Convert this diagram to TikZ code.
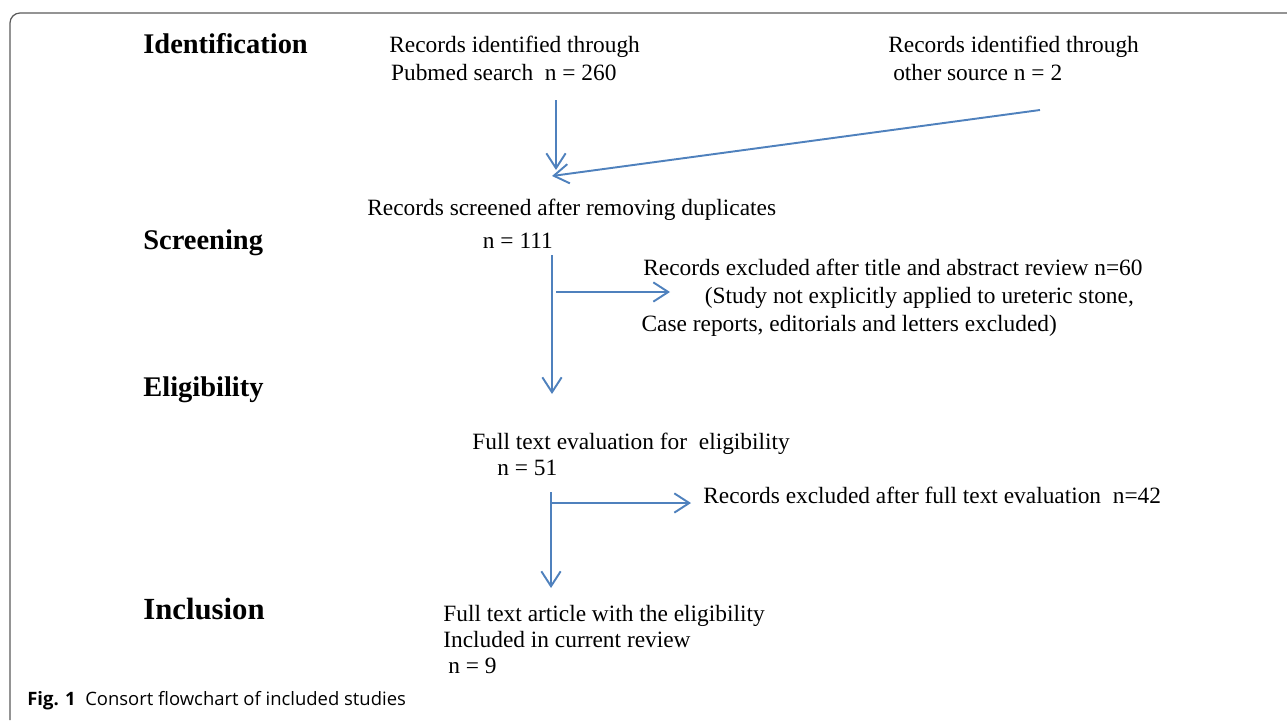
\documentclass[tikz,border=0pt]{standalone}
\usepackage{fontspec}
\setmainfont{Liberation Serif}
\newfontfamily\capfont{Open Sans}
\usetikzlibrary{arrows.meta}
\definecolor{flowblue}{RGB}{79,129,189}
\definecolor{framegray}{RGB}{90,90,90}
\tikzset{
  flow/.style={flowblue, line width=1.1pt, -{Straight Barb[length=8.5pt, width=11pt]}},
  stage/.style={anchor=base west, inner sep=0pt, font=\fontsize{16.2}{19}\selectfont\bfseries},
  entry/.style={anchor=base west, inner sep=0pt, align=left, font=\fontsize{13.3}{15.9}\selectfont},
}
\begin{document}
\begin{tikzpicture}[x=0.02cm, y=-0.02cm]
\useasboundingbox (0,0) rectangle (1287,720);
% Marco
\draw[framegray, line width=0.7pt, rounded corners=0.2cm] (1287,13) -- (10,13) -- (10,720);

% Etapas
\node[stage] (ident) at (143,53) {Identification};
\node[stage] (screen) at (143,249) {Screening};
\node[stage] (elig) at (143,396) {Eligibility};
\node[stage, font=\fontsize{17.5}{20}\selectfont\bfseries] (incl) at (143,619) {Inclusion};

% Cajas de texto (base = ultima linea)
\node[entry] (pubmed) at (389,80) {Records identified through\\\hspace*{1pt}Pubmed search\ \ n = 260};
\node[entry] (other) at (888,80) {Records identified through\\\hspace*{2.8pt}other source n = 2};
\node[entry] (screened) at (367,248) {Records screened after removing duplicates\\[2.8pt]\hspace*{65.8pt}n = 111};
\node[entry] (excl1) at (643,331) {Records excluded after title and abstract review n=60\\\hspace*{35pt}(Study not explicitly applied to ureteric stone,\\\hspace*{-1pt}Case reports, editorials and letters excluded)};
\node[entry] (fulltext) at (472,475) {Full text evaluation for\ \ eligibility\\[-1.2pt]\hspace*{14.2pt}n = 51};
\node[entry] (excl2) at (703,503) {Records excluded after full text evaluation\ \ n=42};
\node[entry] (included) at (443,673) {Full text article with the eligibility\\[-1.2pt]Included in current review\\[-1.2pt]\hspace*{2.8pt}n = 9};

% Puntos de las flechas
\coordinate (pubmedOut) at (556,100);
\coordinate (otherOut) at (1040,110);
\coordinate (mergeA) at (556,170);
\coordinate (mergeB) at (552,176);
\coordinate (screenOut) at (552,255);
\coordinate (screenIn) at (552,394);
\coordinate (split1) at (556,292);
\coordinate (excl1In) at (670,292);
\coordinate (fullOut) at (551,492);
\coordinate (fullIn) at (551,588);
\coordinate (split2) at (551,503);
\coordinate (excl2In) at (691,503);

% Flechas
\draw[flow] (pubmedOut) -- (mergeA);
\draw[flow] (otherOut) -- (mergeB);
\draw[flow] (screenOut) -- (screenIn);
\draw[flow] (split1) -- (excl1In);
\draw[flow] (fullOut) -- (fullIn);
\draw[flow] (split2) -- (excl2In);

% Pie
\node[anchor=base west, inner sep=0pt, font=\capfont\fontsize{10.5}{12}\selectfont] (caption) at (27,705) {\textbf{Fig. 1}\ \ Consort flowchart of included studies};
\end{tikzpicture}
\end{document}
